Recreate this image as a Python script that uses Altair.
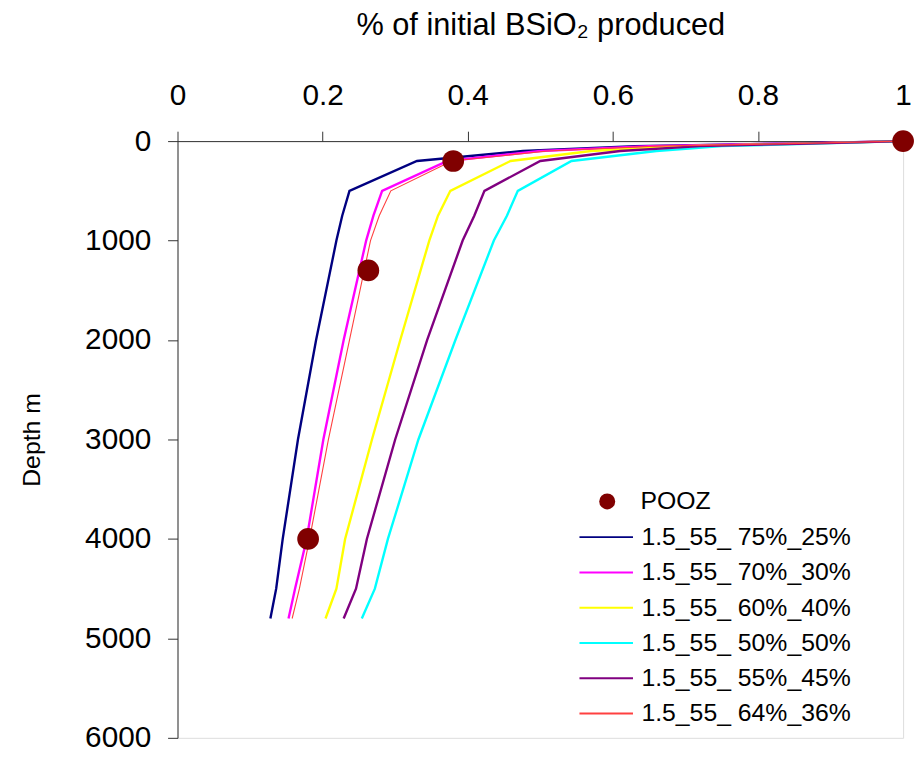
import altair as alt
import pandas as pd

depths = [0, 25, 50, 100, 200, 500, 750, 1000, 2000, 3000, 4000, 4500, 4800]

series_names = ["1.5_55_ 75%_25%", "1.5_55_ 70%_30%", "1.5_55_ 60%_40%",
                "1.5_55_ 50%_50%", "1.5_55_ 55%_45%", "1.5_55_ 64%_36%"]
series_colors = ["#000080", "#FF00FF", "#FFFF00", "#00FFFF", "#800080", "#FF4040"]

s75_25 = [1.0, 0.83, 0.63, 0.476, 0.330, 0.237, 0.227, 0.219, 0.191, 0.166, 0.145, 0.136, 0.128]
s70_30 = [1.0, 0.84, 0.65, 0.500, 0.372, 0.282, 0.270, 0.260, 0.229, 0.201, 0.178, 0.162, 0.153]
s60_40 = [1.0, 0.86, 0.70, 0.570, 0.459, 0.376, 0.359, 0.347, 0.307, 0.268, 0.231, 0.219, 0.204]
s50_50 = [1.0, 0.88, 0.75, 0.660, 0.543, 0.469, 0.454, 0.436, 0.383, 0.332, 0.290, 0.272, 0.254]
s55_45 = [1.0, 0.87, 0.72, 0.610, 0.500, 0.423, 0.409, 0.393, 0.344, 0.300, 0.261, 0.246, 0.229]
s64_36 = [1.0, 0.845, 0.66, 0.510, 0.378, 0.294, 0.278, 0.266, 0.237, 0.208, 0.182, 0.168, 0.158]

pooz_frac = [1.0, 0.38, 0.263, 0.180]
pooz_depth = [0, 200, 1300, 4000]

x_ticks = [0, 0.2, 0.4, 0.6, 0.8, 1]
y_ticks = [0, 1000, 2000, 3000, 4000, 5000, 6000]

all_series = [s75_25, s70_30, s60_40, s50_50, s55_45, s64_36]
rows = []
for name, vals in zip(series_names, all_series):
    for d, v in zip(depths, vals):
        rows.append({"series": name, "depth": d, "frac": v})
lines_df = pd.DataFrame(rows)
pooz_df = pd.DataFrame({"label": ["POOZ"] * len(pooz_frac), "frac": pooz_frac, "depth": pooz_depth})

FONT = "Liberation Sans"

x_enc = alt.X("frac:Q",
              scale=alt.Scale(domain=[0, 1], nice=False, zero=False),
              axis=alt.Axis(orient="top", values=x_ticks, format="~g",
                            title="% of initial BSiO₂ produced",
                            titleFontSize=31, titleFont=FONT, titleFontWeight="normal",
                            titlePadding=40, labelFontSize=30, labelFont=FONT,
                            labelPadding=21, tickSize=10, grid=False,
                            domainColor="#333333", tickColor="#333333",
                            labelColor="black", titleColor="black",
                            labelFlush=False, labelOverlap=False))
y_enc = alt.Y("depth:Q",
              scale=alt.Scale(domain=[0, 6000], reverse=True, nice=False, zero=False),
              axis=alt.Axis(orient="left", values=y_ticks, format="d",
                            title="Depth m", titleFontSize=25, titleFont=FONT,
                            titleFontWeight="normal", titlePadding=40,
                            labelFontSize=30, labelFont=FONT, labelPadding=17,
                            tickSize=10, grid=False, domainColor="#333333",
                            tickColor="#333333", labelColor="black",
                            titleColor="black", labelFlush=False, labelOverlap=False))

stroke_scale = alt.Scale(domain=series_names, range=series_colors)
line_legend = alt.Legend(orient="none", legendX=418, legendY=385, title=None,
                         symbolType="M-2,0H2", symbolSize=729, symbolStrokeWidth=2,
                         symbolFillColor="transparent",
                         labelFontSize=25, labelFont=FONT, labelColor="black",
                         labelOffset=21, rowPadding=7.6, padding=0, labelLimit=400)

thick = lines_df[lines_df["series"] != series_names[5]]
thin = lines_df[lines_df["series"] == series_names[5]]

thick_lines = alt.Chart(thick).mark_line(strokeWidth=2.4).encode(
    x=x_enc, y=y_enc,
    stroke=alt.Stroke("series:N", scale=stroke_scale, legend=line_legend),
    order=alt.Order("depth:Q"),
    detail="series:N",
)
thin_lines = alt.Chart(thin).mark_line(strokeWidth=1.1, color="#FF0000").encode(
    x=x_enc, y=y_enc,
    stroke=alt.Stroke("series:N", scale=stroke_scale, legend=line_legend),
    order=alt.Order("depth:Q"),
)

points = alt.Chart(pooz_df).mark_point(filled=True, size=480, opacity=1, shape="circle").encode(
    x=x_enc, y=y_enc,
    fill=alt.Fill("label:N", scale=alt.Scale(domain=["POOZ"], range=["#800000"]),
                  legend=alt.Legend(orient="none", legendX=421, legendY=351, title=None,
                                    symbolType="circle", symbolSize=260,
                                    labelFontSize=25, labelFont=FONT, labelColor="black",
                                    labelOffset=21, padding=0)),
)

chart = alt.layer(thick_lines, thin_lines, points).resolve_scale(
    stroke="shared"
).properties(
    width=732, height=602,
    padding={"left": 171, "top": 131, "right": 12, "bottom": 12},
    autosize=alt.AutoSizeParams(type="none"),
).configure_view(stroke=None).configure(background="white")

chart.save("out.html", embed_options={"renderer": "svg", "actions": False})
